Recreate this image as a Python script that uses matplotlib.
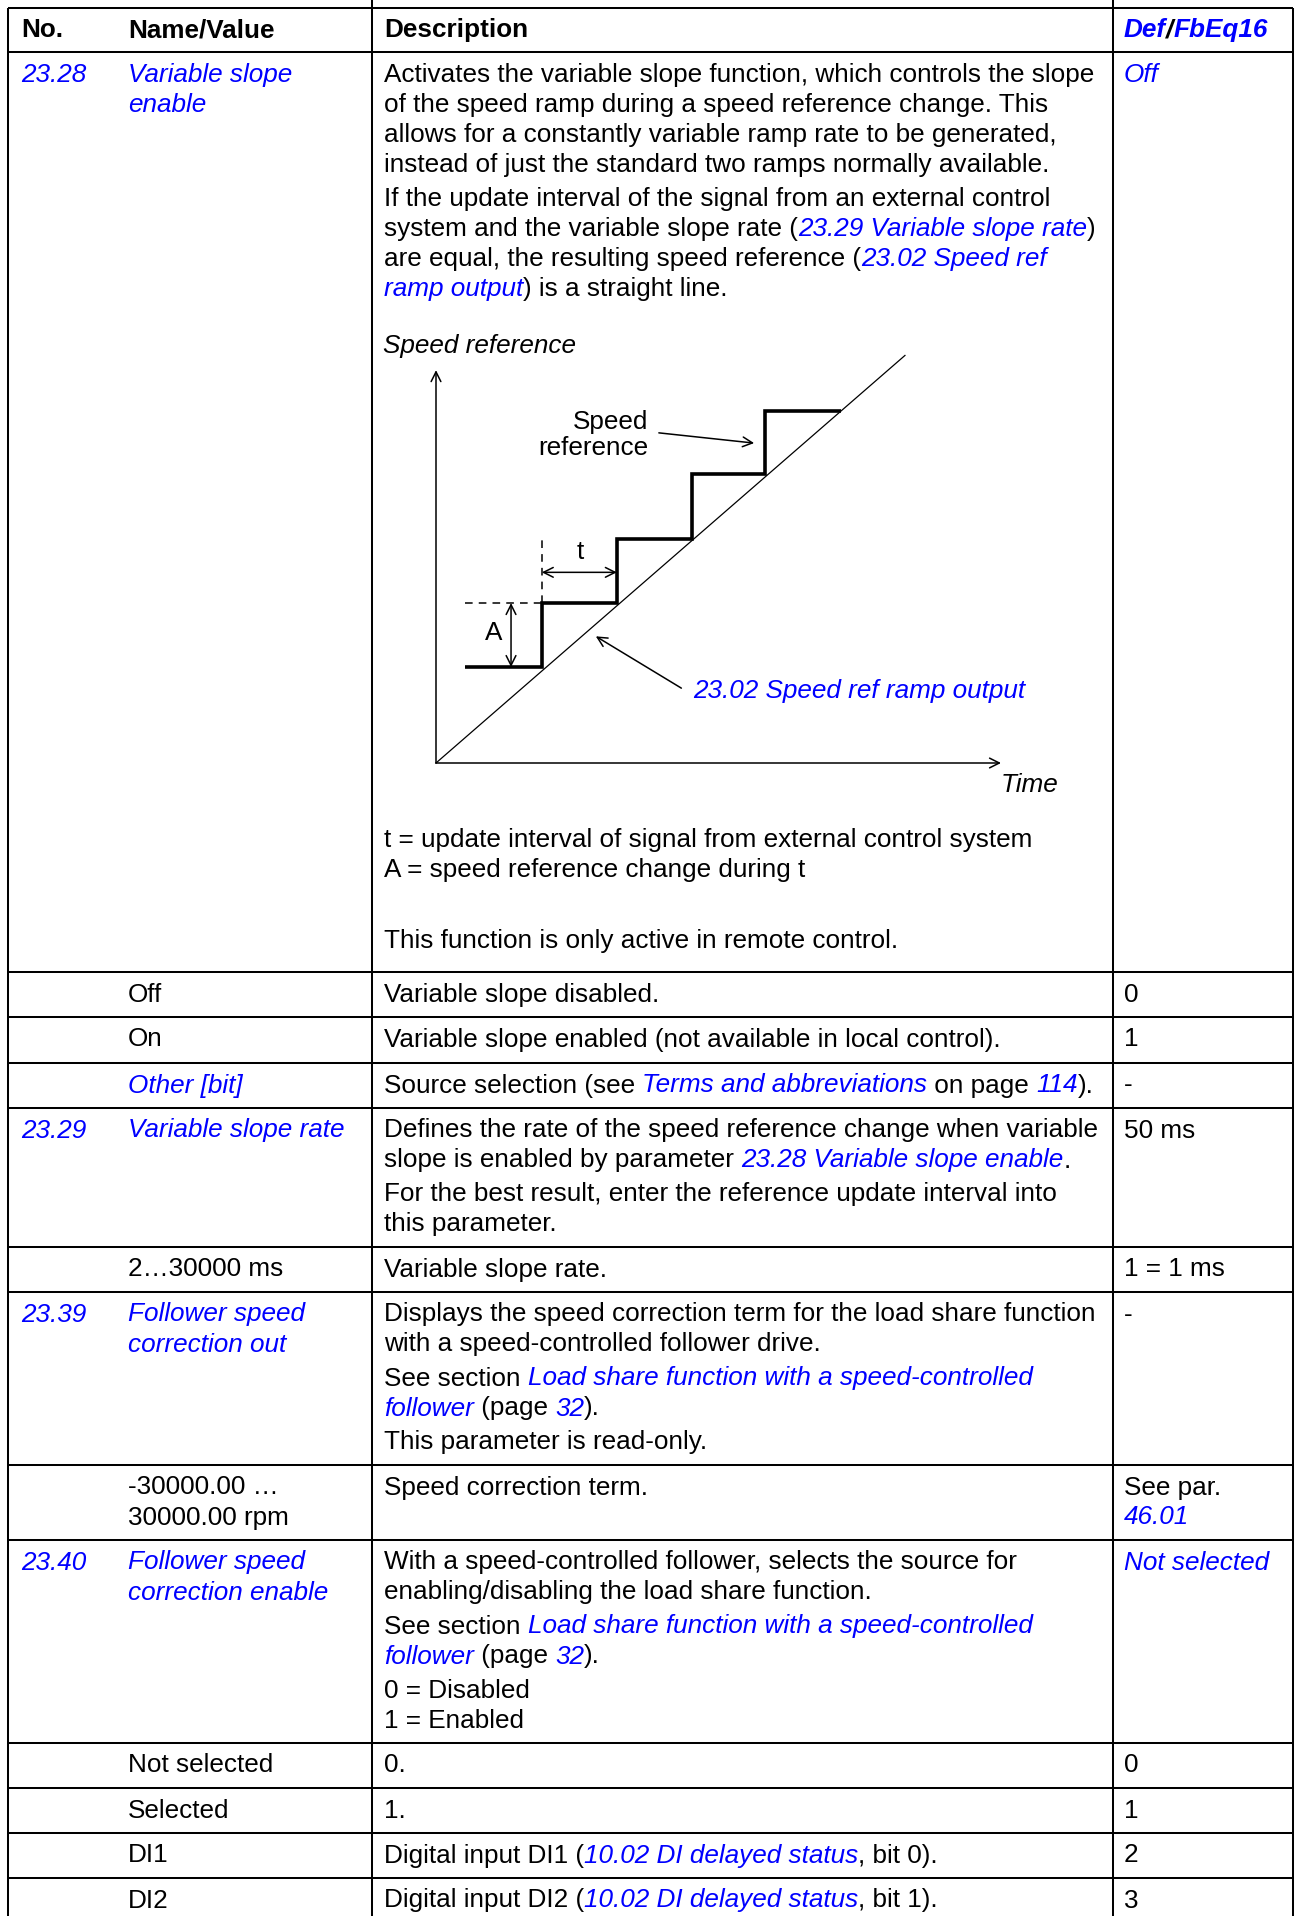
import re
import matplotlib
matplotlib.use("Agg")
import matplotlib.pyplot as plt
from matplotlib.font_manager import FontProperties

BLUE = "#0000ff"
FONT = "Liberation Sans"
FS = 18.8

# ---- table content ({...} = blue italic link text) ----
header = ["No.", "Name/Value", "Description", "{Def}/{FbEq16}"]

row_no = ["{23.28}", "", "", "", "{23.29}", "", "{23.39}", "", "{23.40}", "", "", "", ""]
row_name = [
    ["{Variable slope}", "{enable}"],
    ["Off"],
    ["On"],
    ["{Other [bit]}"],
    ["{Variable slope rate}"],
    ["2…30000 ms"],
    ["{Follower speed}", "{correction out}"],
    ["-30000.00 …", "30000.00 rpm"],
    ["{Follower speed}", "{correction enable}"],
    ["Not selected"],
    ["Selected"],
    ["DI1"],
    ["DI2"],
]
row_desc = [
    [["Activates the variable slope function, which controls the slope",
      "of the speed ramp during a speed reference change. This",
      "allows for a constantly variable ramp rate to be generated,",
      "instead of just the standard two ramps normally available."],
     ["If the update interval of the signal from an external control",
      "system and the variable slope rate ({23.29 Variable slope rate})",
      "are equal, the resulting speed reference ({23.02 Speed ref}",
      "{ramp output}) is a straight line."]],
    [["Variable slope disabled."]],
    [["Variable slope enabled (not available in local control)."]],
    [["Source selection (see {Terms and abbreviations} on page {114})."]],
    [["Defines the rate of the speed reference change when variable",
      "slope is enabled by parameter {23.28 Variable slope enable}."],
     ["For the best result, enter the reference update interval into",
      "this parameter."]],
    [["Variable slope rate."]],
    [["Displays the speed correction term for the load share function",
      "with a speed-controlled follower drive."],
     ["See section {Load share function with a speed-controlled}",
      "{follower} (page {32})."],
     ["This parameter is read-only."]],
    [["Speed correction term."]],
    [["With a speed-controlled follower, selects the source for",
      "enabling/disabling the load share function."],
     ["See section {Load share function with a speed-controlled}",
      "{follower} (page {32})."],
     ["0 = Disabled", "1 = Enabled"]],
    [["0."]],
    [["1."]],
    [["Digital input DI1 ({10.02 DI delayed status}, bit 0)."]],
    [["Digital input DI2 ({10.02 DI delayed status}, bit 1)."]],
]
row_def = [["{Off}"], ["0"], ["1"], ["-"], ["50 ms"], ["1 = 1 ms"], ["-"],
           ["See par.", "{46.01}"], ["{Not selected}"], ["0"], ["1"], ["2"], ["3"]]

notes_a = [["t = update interval of signal from external control system",
            "A = speed reference change during t"]]
notes_b = [["This function is only active in remote control."]]

# ---- diagram data ----
ramp_time = [0.0, 6.25]
ramp_ref = [0.0, 6.37]
stair_edges = [0.39, 1.41, 2.41, 3.41, 4.39, 5.40]
stair_levels = [1.50, 2.50, 3.50, 4.52, 5.50]

# ---- layout (pixels) ----
W, H = 1296, 1916
header_top = 7.5
row_tops = [52, 972, 1017, 1063, 1108, 1247, 1292, 1465, 1540, 1743, 1788, 1833, 1878]
col_x = [21, 128, 384, 1124]
FIRST, LINE, PARA = 29.5, 30, 34

fig = plt.figure(figsize=(W / 100, H / 100), dpi=100)
ax = fig.add_axes([0, 0, 1, 1])
ax.set_xlim(0, W)
ax.set_ylim(H, 0)
ax.axis("off")
renderer = fig.canvas.get_renderer()


def adv(s, fp):
    w1 = renderer.get_text_width_height_descent(s + "|", fp, ismath=False)[0]
    w2 = renderer.get_text_width_height_descent("|", fp, ismath=False)[0]
    return w1 - w2


def draw_line(x, y, s, weight="normal", style="normal"):
    for part in re.split(r"(\{[^}]*\})", s):
        if not part:
            continue
        link = part.startswith("{")
        txt = part[1:-1] if link else part
        fp = FontProperties(family=FONT, size=FS, weight=weight,
                            style="italic" if link else style)
        ax.text(x, y, txt, fontproperties=fp, color=BLUE if link else "black",
                va="baseline", ha="left")
        x += adv(txt, fp)


def draw_block(x, y, paragraphs):
    first = True
    for para in paragraphs:
        for i, line in enumerate(para):
            if not first:
                y += LINE if i > 0 else PARA
            draw_line(x, y, line)
            first = False


# grid
lw = 1.45
for y in [header_top] + row_tops:
    ax.plot([8, 1293], [y, y], color="black", lw=lw, solid_capstyle="butt")
for x, y0 in [(8, header_top), (372, 0), (1113, 0), (1293, header_top)]:
    ax.plot([x, x], [y0, H], color="black", lw=lw, solid_capstyle="butt")

# header
for x, label in zip(col_x, header):
    style = "italic" if "{" in label else "normal"
    draw_line(x, header_top + FIRST, label, weight="bold", style=style)

# rows
for top, no, name, desc, dflt in zip(row_tops, row_no, row_name, row_desc, row_def):
    base = top + FIRST
    if no:
        draw_line(col_x[0], base, no)
    draw_block(col_x[1], base, [name])
    draw_block(col_x[2], base, desc)
    draw_block(col_x[3], base, [dflt])

draw_line(383, 353, "Speed reference", style="italic")
draw_block(384, 847, notes_a)
draw_block(384, 948, notes_b)

# ---- diagram ----
dx = fig.add_axes([436 / W, (H - 763) / H, 565 / W, 405 / H])
dx.set_xlim(0, 7.53)
dx.set_ylim(0, 6.33)
dx.axis("off")
arr = dict(arrowstyle="->,head_length=0.7,head_width=0.35", lw=1.1, color="black",
           shrinkA=0, shrinkB=0)
darr = dict(arrowstyle="<->,head_length=0.7,head_width=0.35", lw=1.1, color="black",
            shrinkA=0, shrinkB=0)
dx.annotate("", xy=(0, 6.14), xytext=(0, 0), arrowprops=arr, annotation_clip=False)
dx.annotate("", xy=(7.53, 0), xytext=(0, 0), arrowprops=arr, annotation_clip=False)
dx.plot(ramp_time, ramp_ref, color="black", lw=0.9, clip_on=False)
dx.stairs(stair_levels, stair_edges, baseline=None, color="black", lw=2.6, clip_on=False)

dash = (0, (5, 4))
dx.plot([stair_edges[0], stair_edges[1]], [stair_levels[1], stair_levels[1]],
        color="black", lw=1.1, ls=dash, clip_on=False)
dx.plot([stair_edges[1], stair_edges[1]], [stair_levels[1], stair_levels[2]],
        color="black", lw=1.1, ls=dash, clip_on=False)
dx.annotate("", xy=(1.0, stair_levels[1]), xytext=(1.0, stair_levels[0]),
            arrowprops=darr, annotation_clip=False)
dx.annotate("", xy=(stair_edges[2], 2.98), xytext=(stair_edges[1], 2.98),
            arrowprops=darr, annotation_clip=False)

lab = dict(family=FONT, fontsize=FS)
dx.text(0.77, 2.03, "A", ha="center", va="center", **lab)
dx.text(1.92, 3.30, "t", ha="center", va="center", **lab)
dx.text(2.83, 5.12, "Speed\nreference", ha="right", va="center",
        multialignment="right", linespacing=1.1, **lab)
dx.annotate("", xy=(4.24, 5.0), xytext=(2.97, 5.16), arrowprops=arr, annotation_clip=False)
dx.text(3.43, 1.125, "23.02 Speed ref ramp output", ha="left", va="center",
        color=BLUE, style="italic", **lab)
dx.annotate("", xy=(2.13, 1.98), xytext=(3.27, 1.17), arrowprops=arr, annotation_clip=False)
dx.text(7.52, -0.45, "Time", ha="left", va="baseline", style="italic", **lab)

fig.savefig("out.png", dpi=100)
